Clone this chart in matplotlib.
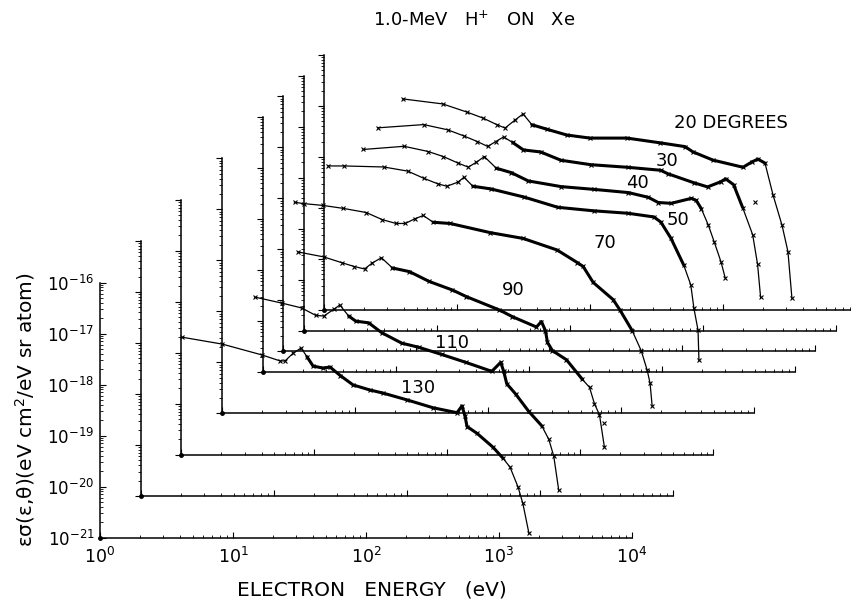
import numpy as np
import matplotlib
matplotlib.use("Agg")
import matplotlib.pyplot as plt
from matplotlib.ticker import LogLocator, NullFormatter

# --- data, each curve in its own frame ---
angles = [20, 30, 40, 50, 70, 90, 110, 130]

energy_20 = [3.9, 7.8, 11.9, 15.7, 20, 23, 27.3, 31.4, 36.6, 47.5, 67, 100, 190, 336, 518,
             595, 841, 1415, 1650, 1830, 2070, 2380, 2780, 3080, 3300]
sigma_20 = [1.38e-17, 1.1e-17, 7.6e-18, 5.8e-18, 4.3e-18, 3.7e-18, 5.3e-18, 7.0e-18, 4.3e-18,
            3.5e-18, 2.7e-18, 2.35e-18, 2.35e-18, 1.9e-18, 1.6e-18, 1.26e-18, 8.7e-19, 6.3e-19,
            8.0e-19, 9.1e-19, 7.6e-19, 1.8e-19, 4.6e-20, 1.4e-20, 1.7e-21]

energy_30 = [3.6, 8.0, 12.1, 16, 20.3, 24.2, 27.8, 31.9, 37.3, 45, 60.5, 86, 144, 273, 483,
             546, 855, 1090, 1365, 1490, 1710, 2000, 2380, 2590, 2730]
sigma_30 = [9.5e-18, 1.1e-17, 8.7e-18, 6.6e-18, 5.1e-18, 4.1e-18, 5.1e-18, 6.3e-18, 4.9e-18,
            3.5e-18, 3.2e-18, 2.2e-18, 1.8e-18, 1.6e-18, 1.4e-18, 1.2e-18, 8.0e-19, 6.6e-19,
            8.3e-19, 9.5e-19, 7.3e-19, 2.6e-19, 7.6e-20, 2.0e-20, 4.5e-21]

energy_40 = [4.0, 8.1, 12.3, 16, 20.7, 24.6, 28.3, 32.5, 40, 51.8, 69.5, 123, 218, 393, 555,
             660, 826, 1170, 1275, 1390, 1570, 1740, 1960, 2100]
sigma_40 = [9.1e-18, 1.05e-17, 8.3e-18, 6.6e-18, 4.9e-18, 4.1e-18, 5.1e-18, 6.6e-18, 3.9e-18,
            3.2e-18, 2.2e-18, 1.7e-18, 1.5e-18, 1.3e-18, 1.05e-18, 8.3e-19, 8.0e-19, 1.0e-18,
            9.1e-19, 6.3e-19, 3.0e-19, 1.4e-19, 5.6e-20, 2.8e-20]

energy_50 = [3.1, 4.1, 8.1, 12.3, 16.2, 20.7, 24.2, 29.3, 32.5, 37.9, 51.8, 92, 165, 308, 555,
             871, 983, 1170, 1460, 1650, 1740, 1870, 1900]
sigma_50 = [1.1e-17, 1.1e-17, 1.05e-17, 8.7e-18, 6.3e-18, 4.9e-18, 4.4e-18, 5.3e-18, 6.6e-18,
            4.4e-18, 3.9e-18, 2.7e-18, 1.7e-18, 1.45e-18, 1.3e-18, 1.1e-18, 8.7e-19, 4.2e-19,
            1.25e-19, 5.1e-20, 1.8e-20, 6.6e-21, 1.7e-21]

energy_70 = [3.5, 4.1, 5.7, 8.1, 12.1, 16, 20.3, 23.8, 28.3, 32.5, 38.6, 51.8, 104, 183, 330,
             467, 518, 616, 871, 983, 1210, 1415, 1570, 1650, 1710]
sigma_70 = [1.38e-17, 1.3e-17, 1.2e-17, 1.05e-17, 8.7e-18, 6.3e-18, 5.3e-18, 5.3e-18, 6.6e-18,
            7.6e-18, 5.6e-18, 5.3e-18, 3.5e-18, 2.7e-18, 1.6e-18, 9.1e-19, 7.6e-19, 3.7e-19,
            1.7e-19, 1.05e-19, 4.2e-20, 1.7e-20, 7e-21, 3.9e-21, 1.4e-21]

energy_90 = [7.5, 11.7, 16.2, 20, 23.8, 27.3, 31.9, 38.6, 51.8, 73, 109, 139, 246, 308, 467,
             509, 546, 565, 616, 785, 1035, 1170, 1275, 1390, 1515]
sigma_90 = [9.5e-18, 7.6e-18, 5.8e-18, 4.9e-18, 4.4e-18, 5.8e-18, 7.3e-18, 4.6e-18, 3.9e-18,
            2.5e-18, 1.7e-18, 1.26e-18, 6.9e-19, 5.1e-19, 3.2e-19, 4.1e-19, 2.7e-19, 1.6e-19,
            1.1e-19, 7.3e-20, 3.0e-20, 2.1e-20, 1.0e-20, 6.1e-21, 1.4e-21]

energy_110 = [7.2, 11.5, 16.2, 20.7, 23.8, 28.3, 31.4, 36.6, 41.4, 51.8, 64.9, 91.7, 123, 183,
              278, 436, 509, 536, 565, 660, 826, 1035, 1170, 1275, 1390]
sigma_110 = [8.0e-18, 6.1e-18, 4.9e-18, 3.5e-18, 3.4e-18, 4.6e-18, 5.6e-18, 3.4e-18, 2.7e-18,
             2.5e-18, 1.6e-18, 1.0e-18, 8.3e-19, 6.0e-19, 4.2e-19, 2.8e-19, 4.2e-19, 2.8e-19,
             1.6e-19, 1.0e-19, 4.6e-20, 2.4e-20, 1.3e-20, 6.1e-21, 1.3e-21]

energy_130 = [4.1, 8.3, 16.5, 22.6, 24.6, 28.3, 32.5, 36, 40, 47.5, 53.6, 64, 80, 107, 134, 203,
              319, 483, 527, 555, 575, 684, 901, 1070, 1210, 1390, 1510, 1680]
sigma_130 = [8.5e-18, 6.2e-18, 3.8e-18, 2.9e-18, 2.9e-18, 4.1e-18, 5.2e-18, 3.5e-18, 2.3e-18,
             2.1e-18, 2.2e-18, 1.5e-18, 9.8e-19, 7.8e-19, 6.8e-19, 5.0e-19, 3.5e-19, 2.8e-19,
             3.8e-19, 2.4e-19, 1.5e-19, 1.1e-19, 5.9e-20, 3.6e-20, 2.4e-20, 9.8e-21, 4.7e-21, 1.2e-21]

# stray single points
stray_20 = ([1740], [1.3e-19])
stray_90 = ([1515], [4.2e-21])

# energy range where the measured points are so dense the curve looks thick
dense_lo = 36
dense_hi = {20: 2070, 30: 2000, 40: 1390, 50: 1460, 70: 1210, 90: 1035, 110: 1035, 130: 1070}

curves = {20: (energy_20, sigma_20), 30: (energy_30, sigma_30), 40: (energy_40, sigma_40),
          50: (energy_50, sigma_50), 70: (energy_70, sigma_70), 90: (energy_90, sigma_90),
          110: (energy_110, sigma_110), 130: (energy_130, sigma_130)}
labels = {20: "20 DEGREES", 30: "30", 40: "40", 50: "50", 70: "70", 90: "90", 110: "110", 130: "130"}
label_px = {20: (731, 123), 30: (667, 161), 40: (637, 183), 50: (678, 220),
            70: (605, 243), 90: (513, 290), 110: (452, 343), 130: (418, 388)}

W, H = 851, 603
plt.rcParams['font.family'] = ['DejaVu Sans']
fig = plt.figure(figsize=(W / 100, H / 100), dpi=100)

def fx(px):
    return px / W

def fy(py):
    return 1 - py / H

# frame geometry in pixels
x0, y0 = 100, 537.5      # main frame origin (130 deg)
fw, fh = 532, 255        # 4 decades x 5 decades
step_x, step_y = 20.36, 20.68   # shift per 10 degrees


def style_frame(ax, main=False):
    ax.set_xscale('log')
    ax.set_yscale('log')
    ax.set_xlim(1, 1e4)
    ax.set_ylim(1e-21, 1e-16)
    ax.patch.set_visible(False)
    for s in ['top', 'right']:
        ax.spines[s].set_visible(False)
    for s in ['left', 'bottom']:
        ax.spines[s].set_linewidth(1.1)
    ax.xaxis.set_minor_locator(LogLocator(base=10, subs=np.arange(2, 10), numticks=20))
    ax.yaxis.set_minor_locator(LogLocator(base=10, subs=np.arange(2, 10), numticks=20))
    ax.xaxis.set_minor_formatter(NullFormatter())
    ax.yaxis.set_minor_formatter(NullFormatter())
    ax.tick_params(which='major', direction='in', length=4, width=0.8)
    ax.tick_params(which='minor', direction='in', length=2, width=0.6)
    if main:
        ax.tick_params(axis='x', which='major', labelsize=12.5, pad=7)
        ax.tick_params(axis='y', which='major', labelsize=12, pad=4)
    else:
        ax.tick_params(labelleft=False, labelbottom=False)
        ax.tick_params(axis='y', which='both', direction='out')


for ang in angles[::-1]:
    k = (130 - ang) / 10
    ox = x0 + step_x * k
    oy = y0 - step_y * k
    ax = fig.add_axes([fx(ox), fy(oy), fw / W, fh / H])
    style_frame(ax, main=(ang == 130))
    ax.plot([1], [1e-21], 'o', color='black', ms=2.5, clip_on=False)

    e, s = curves[ang]
    e = np.array(e)
    s = np.array(s)
    ax.plot(e, s, '-', color='black', lw=0.9, marker='x', ms=3.5, mew=0.8, clip_on=False)
    m = (e >= dense_lo) & (e <= dense_hi[ang])
    ax.plot(e[m], s[m], '-', color='black', lw=2.2, solid_capstyle='round',
            solid_joinstyle='round', clip_on=False)
    if ang == 20:
        ax.plot(*stray_20, 'x', color='black', ms=3, mew=0.8, clip_on=False)
    if ang == 90:
        ax.plot(*stray_90, 'x', color='black', ms=3, mew=0.8, clip_on=False)

for ang in angles:
    lx, ly = label_px[ang]
    fig.text(fx(lx), fy(ly), labels[ang], fontsize=13, ha='center', va='center')

fig.text(fx(474), fy(20), "1.0-MeV   H$^{+}$   ON   Xe", fontsize=13, ha='center', va='center')
fig.text(fx(372), fy(590), "ELECTRON   ENERGY   (eV)", fontsize=14.5, ha='center', va='center')
fig.text(fx(25), fy(410), "εσ(ε,θ)(eV cm$^{2}$/eV sr atom)", fontsize=14.5,
         rotation=90, ha='center', va='center')

fig.savefig("out.png", dpi=100)
